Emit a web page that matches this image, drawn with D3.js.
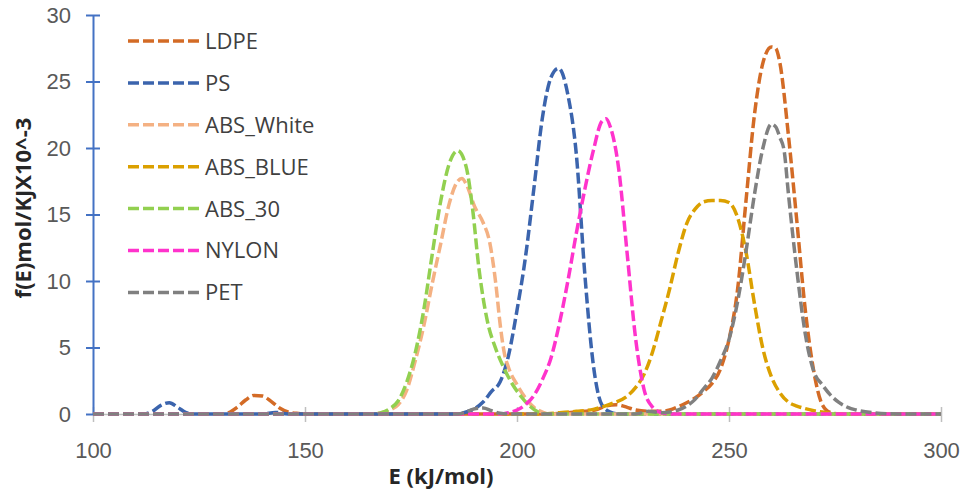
<!DOCTYPE html>
<html>
<head>
<meta charset="utf-8">
<script src="https://cdn.jsdelivr.net/npm/d3@7"></script>
<style>
  body { margin: 0; background: #fff; }
  svg { display: block; font-family: "Open Sans", Lato, sans-serif; }
</style>
</head>
<body>
<div id="chart"></div>
<script>
// data: [E (kJ/mol), f(E)]
var ldpe = [[100,0],[130,0],[132,0.1],[134,0.5],[136,1.05],[138,1.4],[140,1.35],[142,0.95],[144,0.45],[146,0.15],[148,0.05],[150,0],
  [208,0],[212,0.1],[216,0.2],[219,0.35],[221,0.6],[223.5,0.7],[226,0.5],[228,0.3],[231,0.2],[234,0.2],[236,0.3],[238,0.55],
  [240,0.85],[242,1.2],[244,1.7],[246,2.3],[248,3.4],[250,5.6],[252,9.3],[254,16.0],[256,22.5],[258,26.4],[260,27.6],[261,27.5],
  [262,26.4],[264,21.0],[266,14.5],[268,7.8],[270,3.2],[272,0.7],[274,0.1],[276,0],[300,0]]
var ps = [[100,0],[112,0],[114,0.2],[116,0.65],[118,0.85],[120,0.5],[122,0.1],[124,0],[140,0],[143,0.12],[146,0],[186,0],
  [188,0.15],[190,0.4],[192,0.9],[194,1.7],[196,2.4],[198,4.4],[200,7.8],[202,11.8],[204,17.0],[206,22.3],[208,25.3],[209.8,26.0],
  [212,24.0],[214,19.5],[216,10.5],[218,3.7],[220,0.7],[222,0.15],[224,0],[300,0]]
var absWhite = [[100,0],[166,0],[168,0.1],[170,0.3],[172,0.7],[174,1.8],[176,4.0],[178,6.6],[180,9.8],[182,12.8],[184,15.8],
  [186,17.5],[187,17.7],[188,17.3],[190,15.6],[192,14.4],[193.5,13.0],[195,9.8],[196,6.8],[197,4.6],[198,3.5],[200,2.2],
  [202,1.2],[204,0.5],[206,0.15],[208,0],[300,0]]
var absBlue = [[100,0],[206,0],[210,0.1],[214,0.2],[218,0.35],[222,0.75],[226,1.35],[228,2.0],[230,3.0],[232,4.7],[234,7.0],
  [236,9.4],[238,12.1],[240,14.3],[242,15.4],[244,15.95],[246,16.05],[248,16.05],[250,15.9],[252,14.8],[254,12.2],[256,8.3],
  [258,4.9],[260,2.8],[262,1.6],[264,0.9],[266,0.6],[268,0.4],[270,0.25],[272,0.15],[275,0],[300,0]]
var abs30 = [[100,0],[166,0],[168,0.1],[170,0.4],[172,1.0],[174,2.4],[176,4.6],[178,7.8],[180,12.0],[182,16.0],[184,18.8],
  [186,19.8],[188,18.6],[189.5,15.5],[191,11.0],[193,7.0],[195,4.9],[197,3.4],[199,2.2],[201,1.3],[203,0.6],[205,0.15],[207,0],[300,0]]
var nylon = [[100,0],[196,0],[198,0.1],[200,0.3],[202,0.7],[204,1.4],[206,2.6],[208,4.2],[210,6.8],[212,10.0],[214,13.6],
  [216,16.9],[218,19.8],[220,22.0],[221,22.2],[222,21.6],[224,18.4],[226,12.0],[228,5.6],[230,1.8],[232,0.5],[234,0.1],[236,0],[300,0]]
var pet = [[100,0],[186,0],[188,0.15],[190,0.4],[192,0.45],[194,0.25],[196,0.05],[198,0],[228,0],[231,0.2],[234,0.1],[236,0.15],
  [238,0.3],[240,0.6],[242,1.1],[244,1.9],[246,2.7],[248,4.0],[250,5.6],[252,8.4],[254,12.2],[256,16.5],[258,20.0],[260,21.8],
  [261,21.6],[262,20.8],[263,19.8],[264,16.6],[266,10.8],[268,6.0],[270,3.2],[272,2.2],[274,1.4],[276,0.85],[278,0.5],[280,0.3],
  [284,0.1],[290,0],[300,0]]

var names = ['LDPE', 'PS', 'ABS_White', 'ABS_BLUE', 'ABS_30', 'NYLON', 'PET']
var series = [ldpe, ps, absWhite, absBlue, abs30, nylon, pet]
var colors = ['#D36B26', '#3B64AD', '#F4B183', '#DBA000', '#92D050', '#FF33CC', '#808080']
var xTicks = [100, 150, 200, 250, 300]
var yTicks = [0, 5, 10, 15, 20, 25, 30]

// svg dimensions (plot box)
var W = 964,
    H = 503,
    x0 = 93,
    x1 = 941,
    y0 = 414,
    y1 = 15

var svg = d3.select('#chart')
    .append('svg')
    .attr('width', W)
    .attr('height', H)

// scales
var x = d3.scaleLinear().domain([100, 300]).range([x0, x1])
var y = d3.scaleLinear().domain([0, 30]).range([y0, y1])

// x axis (grey, cross ticks)
var gx = svg.append('g')
    .attr('transform', `translate(0,${y0})`)
    .call(d3.axisBottom(x).tickValues(xTicks).tickFormat(d => d).tickSizeOuter(0))
gx.select('.domain').attr('stroke', '#BFBFBF').attr('stroke-width', 1.5)
gx.selectAll('.tick line').attr('stroke', '#BFBFBF').attr('stroke-width', 1.5).attr('y1', -7).attr('y2', 8)
gx.selectAll('.tick text')
    .attr('y', 44).attr('dy', null)
    .attr('fill', '#595959')
    .style('font-size', '22px')

// y axis (blue, cross ticks)
var gy = svg.append('g')
    .attr('transform', `translate(${x0},0)`)
    .call(d3.axisLeft(y).tickValues(yTicks).tickSizeOuter(0))
gy.select('.domain').attr('stroke', '#4472C4').attr('stroke-width', 2)
gy.selectAll('.tick line').attr('stroke', '#4472C4').attr('stroke-width', 2).attr('x1', -7).attr('x2', 7)
gy.selectAll('.tick text')
    .attr('x', -22)
    .attr('fill', '#595959')
    .style('font-size', '22px')

// lines
var line = d3.line()
    .x(d => x(d[0]))
    .y(d => y(d[1]))
    .curve(d3.curveMonotoneX)

svg.append('g')
    .selectAll('path')
    .data(series)
    .enter()
    .append('path')
    .attr('d', line)
    .attr('fill', 'none')
    .attr('stroke', (d, i) => colors[i])
    .attr('stroke-width', 3.5)
    .attr('stroke-dasharray', '11,4')

// legend
var lg = svg.append('g')
    .selectAll('g')
    .data(names)
    .enter()
    .append('g')
    .attr('transform', (d, i) => `translate(128,${41 + i * 41.9})`)

lg.append('line')
    .attr('x1', 0)
    .attr('x2', 71)
    .attr('stroke', (d, i) => colors[i])
    .attr('stroke-width', 3.5)
    .attr('stroke-dasharray', '11,4')

lg.append('text')
    .text(d => d)
    .attr('x', 77)
    .attr('dy', '0.36em')
    .attr('fill', '#404040')
    .style('font-size', '22px')

// axis titles
svg.append('text')
    .text('E (kJ/mol)')
    .attr('x', 441)
    .attr('y', 484)
    .attr('text-anchor', 'middle')
    .attr('fill', '#262626')
    .style('font-size', '22px')
    .style('font-weight', 'bold')

svg.append('text')
    .text('f(E)mol/KJX10^-3')
    .attr('transform', 'translate(31,208) rotate(-90)')
    .attr('text-anchor', 'middle')
    .attr('fill', '#262626')
    .style('font-size', '22px')
    .style('font-weight', 'bold')
</script>
</body>
</html>
